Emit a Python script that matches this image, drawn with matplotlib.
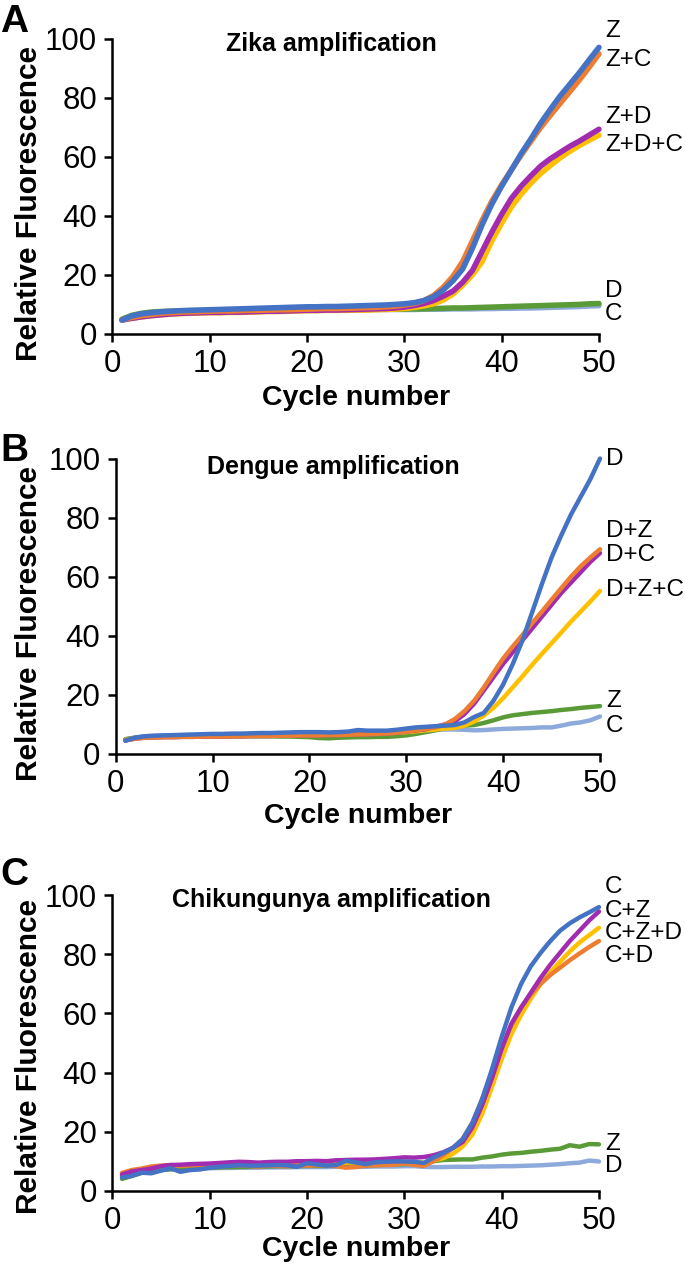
import matplotlib
matplotlib.use("Agg")
import matplotlib.pyplot as plt
import numpy as np

plt.rcParams['font.family'] = ['Liberation Sans', 'DejaVu Sans']

cycles = np.arange(1, 51)

# ---- Panel A: Zika amplification ----
a_z = [4.7, 6.1, 6.8, 7.2, 7.5, 7.7, 7.9, 8.0, 8.1, 8.2,
       8.3, 8.4, 8.5, 8.6, 8.7, 8.8, 8.9, 9.0, 9.1, 9.2,
       9.2, 9.3, 9.3, 9.4, 9.5, 9.6, 9.7, 9.8, 10.0, 10.2,
       10.6, 11.3, 12.6, 14.9, 18.0, 22.0, 29.0, 37.0, 44.0, 50.0,
       55.5, 61.0, 66.0, 71.3, 76.0, 80.5, 84.5, 88.5, 92.8, 97.0]
a_zc = [4.8, 5.6, 6.2, 6.6, 7.0, 7.2, 7.4, 7.5, 7.6, 7.7,
        7.8, 7.8, 7.9, 8.0, 8.0, 8.1, 8.2, 8.2, 8.3, 8.4,
        8.5, 8.6, 8.6, 8.7, 8.8, 8.9, 9.0, 9.2, 9.4, 9.8,
        10.3, 11.3, 13.0, 15.8, 19.5, 24.5, 31.5, 38.5, 45.0, 50.5,
        55.5, 60.5, 65.2, 69.8, 74.0, 78.0, 82.0, 86.0, 90.3, 94.8]
a_zd = [4.7, 5.3, 5.8, 6.2, 6.5, 6.8, 7.0, 7.1, 7.2, 7.3,
        7.3, 7.4, 7.4, 7.5, 7.6, 7.7, 7.7, 7.8, 7.9, 8.0,
        8.0, 8.1, 8.1, 8.2, 8.3, 8.4, 8.5, 8.6, 8.8, 9.1,
        9.6, 10.3, 11.3, 12.8, 14.5, 17.5, 21.5, 28.0, 34.5, 40.5,
        45.9, 50.0, 53.5, 56.8, 59.3, 61.4, 63.5, 65.3, 67.3, 69.3]
a_zdc = [4.8, 5.3, 5.8, 6.2, 6.5, 6.7, 6.9, 7.0, 7.1, 7.2,
         7.2, 7.3, 7.3, 7.4, 7.5, 7.6, 7.6, 7.7, 7.8, 7.9,
         7.9, 8.0, 8.0, 8.0, 8.1, 8.1, 8.2, 8.3, 8.4, 8.6,
         9.0, 9.5, 10.2, 11.5, 13.5, 16.5, 20.0, 24.5, 31.5, 37.5,
         43.0, 47.3, 51.0, 54.3, 57.0, 59.6, 61.8, 63.8, 65.6, 67.3]
a_d = [5.0, 6.3, 7.0, 7.4, 7.6, 7.7, 7.8, 7.9, 7.9, 8.0,
       8.0, 8.0, 8.1, 8.1, 8.1, 8.1, 8.2, 8.2, 8.2, 8.2,
       8.2, 8.3, 8.3, 8.3, 8.3, 8.3, 8.4, 8.4, 8.4, 8.4,
       8.5, 8.5, 8.6, 8.7, 8.8, 8.8, 8.9, 9.0, 9.1, 9.2,
       9.3, 9.4, 9.5, 9.6, 9.7, 9.8, 9.9, 10.0, 10.2, 10.3]
a_c = [4.8, 5.9, 6.6, 7.0, 7.3, 7.5, 7.6, 7.7, 7.7, 7.8,
       7.8, 7.9, 7.9, 7.9, 8.0, 8.0, 8.0, 8.0, 8.1, 8.1,
       8.1, 8.1, 8.2, 8.2, 8.2, 8.2, 8.3, 8.3, 8.3, 8.3,
       8.3, 8.4, 8.4, 8.4, 8.5, 8.5, 8.5, 8.6, 8.6, 8.7,
       8.7, 8.8, 8.8, 8.9, 9.0, 9.1, 9.2, 9.3, 9.5, 9.6]

# ---- Panel B: Dengue amplification ----
b_d = [4.5, 5.5, 6.0, 6.2, 6.3, 6.4, 6.5, 6.6, 6.7, 6.8,
       6.8, 6.9, 6.9, 7.0, 7.1, 7.1, 7.2, 7.3, 7.4, 7.4,
       7.4, 7.3, 7.4, 7.6, 8.1, 7.9, 7.9, 7.9, 8.2, 8.6,
       9.0, 9.2, 9.4, 9.6, 9.8, 10.7, 12.5, 13.9, 18.0, 23.5,
       30.5, 38.5, 48.0, 57.5, 66.5, 74.0, 81.0, 87.0, 93.0, 100.0]
b_dz = [4.6, 5.2, 5.5, 5.6, 5.7, 5.7, 5.8, 5.8, 5.9, 5.9,
        5.9, 6.0, 6.0, 6.1, 6.1, 6.1, 6.2, 6.2, 6.3, 6.3,
        6.3, 6.4, 6.4, 6.5, 6.6, 6.7, 6.8, 7.0, 7.2, 7.6,
        8.0, 8.5, 9.0, 10.0, 11.8, 14.5, 18.0, 22.5, 27.5, 32.3,
        36.4, 40.3, 44.3, 48.2, 52.2, 56.1, 60.0, 63.5, 66.5, 69.3]
b_dc = [4.6, 5.2, 5.5, 5.6, 5.7, 5.7, 5.8, 5.8, 5.9, 5.9,
        5.9, 6.0, 6.0, 6.1, 6.1, 6.1, 6.2, 6.2, 6.3, 6.3,
        6.3, 6.4, 6.4, 6.5, 6.6, 6.7, 6.8, 7.0, 7.2, 7.6,
        8.0, 8.4, 9.2, 10.0, 11.0, 13.5, 17.0, 21.5, 26.0, 30.5,
        34.5, 38.5, 42.5, 46.5, 50.5, 54.5, 58.0, 61.5, 65.0, 68.0]
b_dzc = [4.8, 5.3, 5.6, 5.7, 5.8, 5.8, 5.9, 5.9, 6.0, 6.0,
         6.0, 6.1, 6.1, 6.2, 6.2, 6.2, 6.3, 6.3, 6.4, 6.4,
         6.4, 6.5, 6.5, 6.6, 6.7, 6.8, 6.9, 7.0, 7.2, 7.4,
         7.7, 8.0, 8.3, 8.6, 8.8, 9.6, 11.0, 13.0, 15.6, 18.9,
         22.6, 26.3, 30.2, 33.9, 37.5, 41.1, 44.8, 48.2, 51.6, 55.2]
b_z = [5.0, 5.5, 5.8, 5.9, 5.9, 6.0, 6.0, 6.0, 6.0, 6.0,
       6.0, 6.0, 6.0, 6.0, 6.0, 6.0, 5.9, 5.9, 5.8, 5.7,
       5.4, 5.3, 5.5, 5.6, 5.7, 5.7, 5.8, 5.8, 6.0, 6.3,
       6.8, 7.4, 8.0, 8.7, 9.3, 9.6, 9.8, 10.5, 11.4, 12.4,
       13.1, 13.5, 13.9, 14.2, 14.5, 14.9, 15.2, 15.6, 15.9, 16.2]
b_c = [5.0, 5.6, 6.0, 6.1, 6.2, 6.3, 6.4, 6.4, 6.5, 6.5,
       6.6, 6.6, 6.7, 6.7, 6.8, 6.8, 6.9, 6.9, 7.0, 7.0,
       7.1, 7.1, 7.2, 7.2, 7.3, 7.4, 7.5, 7.6, 7.7, 7.8,
       8.0, 8.1, 8.2, 8.3, 8.3, 8.2, 8.0, 8.1, 8.3, 8.5,
       8.6, 8.7, 8.8, 9.0, 9.0, 9.6, 10.3, 10.7, 11.4, 12.7]

# ---- Panel C: Chikungunya amplification ----
c_c = [4.5, 5.0, 6.1, 5.9, 6.8, 7.6, 6.4, 7.0, 7.2, 7.8,
       8.1, 8.4, 8.6, 8.5, 8.5, 8.6, 8.7, 8.6, 8.1, 9.3,
       8.9, 8.5, 8.7, 10.1, 9.6, 9.0, 9.6, 9.8, 9.9, 9.9,
       9.8, 9.4, 11.2, 12.8, 14.5, 17.5, 23.0, 31.0, 41.0, 52.0,
       62.0, 70.0, 76.0, 80.5, 84.5, 88.0, 90.5, 92.5, 94.2, 96.0]
c_cz = [5.5, 6.5, 7.0, 7.5, 8.3, 8.7, 8.8, 9.0, 9.1, 9.2,
        9.4, 9.6, 9.8, 9.7, 9.5, 9.7, 9.8, 9.8, 10.0, 10.0,
        10.1, 10.0, 10.3, 10.4, 10.5, 10.5, 10.6, 10.8, 11.0, 11.3,
        11.2, 11.4, 12.0, 13.0, 14.5, 16.5, 21.5, 29.0, 38.0, 48.0,
        56.5, 62.0, 67.0, 72.0, 76.5, 80.5, 84.5, 88.0, 91.5, 94.5]
c_cd = [6.0, 7.0, 7.5, 8.2, 8.5, 8.7, 8.5, 8.6, 8.7, 8.9,
        8.7, 8.5, 8.6, 8.4, 8.2, 8.5, 8.4, 8.3, 8.5, 8.5,
        8.6, 8.6, 8.3, 7.8, 8.0, 8.5, 8.6, 8.7, 8.8, 9.2,
        8.8, 8.4, 10.0, 12.0, 14.5, 17.5, 23.0, 31.0, 40.0, 48.5,
        56.0, 62.0, 66.5, 70.0, 73.0, 75.5, 78.0, 80.3, 82.5, 84.5]
c_czd = [5.5, 6.5, 7.2, 7.8, 8.2, 8.5, 8.6, 8.7, 8.8, 8.9,
         9.0, 9.0, 9.1, 9.1, 9.1, 9.2, 9.2, 9.3, 9.3, 9.4,
         9.4, 9.4, 9.5, 9.5, 9.6, 9.6, 9.7, 9.7, 9.8, 9.8,
         9.6, 9.5, 10.2, 11.0, 12.5, 15.0, 19.0, 26.0, 35.0, 44.5,
         53.0, 59.5, 65.0, 70.0, 74.0, 77.5, 81.0, 84.0, 86.5, 89.0]
c_z = [4.0, 5.0, 6.0, 6.5, 7.0, 7.3, 7.5, 7.6, 7.7, 7.8,
       7.9, 8.0, 8.0, 8.1, 8.2, 8.2, 8.3, 8.3, 8.3, 8.4,
       8.4, 8.4, 8.5, 8.5, 8.6, 8.6, 8.7, 8.8, 8.9, 9.0,
       9.1, 9.3, 10.0, 10.4, 10.5, 10.6, 10.6, 11.2, 11.6, 12.2,
       12.6, 12.8, 13.2, 13.5, 13.9, 14.2, 15.4, 14.9, 15.8, 15.7]
c_d = [5.0, 5.8, 6.3, 6.7, 7.0, 7.2, 7.3, 7.4, 7.5, 7.6,
       7.7, 7.7, 7.8, 7.8, 7.8, 7.9, 7.9, 7.9, 8.0, 8.0,
       8.0, 8.0, 8.1, 8.1, 8.1, 8.1, 8.2, 8.2, 8.2, 8.3,
       8.3, 8.1, 8.0, 8.0, 8.1, 8.1, 8.1, 8.2, 8.2, 8.3,
       8.3, 8.4, 8.5, 8.6, 8.8, 9.0, 9.3, 9.5, 10.2, 9.9]

BLUE = "#4472C4"
ORANGE = "#ED7D31"
PURPLE = "#A12CB0"
YELLOW = "#FFC000"
GREEN = "#5B9B37"
LBLUE = "#8EA9DB"

TICK_FONT = ['Liberation Sans Narrow', 'Liberation Sans', 'DejaVu Sans']

panels = [
    {
        "letter": "A", "title": "Zika amplification",
        "rect": [0.1639, 0.7364, 0.7105, 0.2332], "lw": 4.0,
        # drawn bottom to top: (values, colour)
        "series": [(a_c, LBLUE), (a_d, GREEN), (a_zdc, YELLOW), (a_zd, PURPLE), (a_zc, ORANGE), (a_z, BLUE)],
        "labels": [("Z", 102.5), ("Z+C", 92.7), ("Z+D", 73.5), ("Z+D+C", 64.0), ("D", 14.6), ("C", 6.8)],
        "letter_y": 0.9747, "title_y": 0.958, "xlab_y": -0.239, "ylab_x": -0.172, "ylab_y": 0.443,
    },
    {
        "letter": "B", "title": "Dengue amplification",
        "rect": [0.1689, 0.4049, 0.7070, 0.2332], "lw": 3.2,
        "series": [(b_c, LBLUE), (b_z, GREEN), (b_dzc, YELLOW), (b_dc, PURPLE), (b_dz, ORANGE), (b_d, BLUE)],
        "labels": [("D", 100.0), ("D+Z", 75.6), ("D+C", 67.4), ("D+Z+C", 55.4), ("Z", 17.9), ("C", 9.4)],
        "letter_y": 0.6361, "title_y": 0.948, "xlab_y": -0.232, "ylab_x": -0.178, "ylab_y": 0.44,
    },
    {
        "letter": "C", "title": "Chikungunya amplification",
        "rect": [0.1639, 0.0602, 0.7105, 0.2332], "lw": 3.2,
        "series": [(c_d, LBLUE), (c_z, GREEN), (c_czd, YELLOW), (c_cd, ORANGE), (c_cz, PURPLE), (c_c, BLUE)],
        "labels": [("C", 102.8), ("C+Z", 94.6), ("C+Z+D", 87.2), ("C+D", 79.4), ("Z", 15.9), ("D", 8.2)],
        "letter_y": 0.3015, "title_y": 0.961, "xlab_y": -0.222, "ylab_x": -0.172, "ylab_y": 0.455,
    },
]

fig = plt.figure(figsize=(6.85, 12.67), dpi=100)

for p in panels:
    ax = fig.add_axes(p["rect"])
    for vals, col in p["series"]:
        ax.plot(cycles, vals, color=col, linewidth=p["lw"], solid_capstyle="round", clip_on=False)

    ax.set_xlim(0, 50)
    ax.set_ylim(0, 100)
    ax.set_xticks(range(0, 51, 10))
    ax.set_yticks(range(0, 101, 20))
    for side in ["top", "right"]:
        ax.spines[side].set_visible(False)
    for side in ["left", "bottom"]:
        ax.spines[side].set_linewidth(1.8)
    ax.tick_params(axis="both", direction="out", length=6, width=1.8, labelsize=22.5)
    ax.tick_params(axis="y", pad=5)
    ax.tick_params(axis="x", pad=5)
    for lab in ax.get_xticklabels() + ax.get_yticklabels():
        lab.set_family(TICK_FONT)

    for text, yv in p["labels"]:
        ax.text(50.6, yv, text, fontsize=17.5, ha="left", va="center", clip_on=False)

    ax.text(0.45, p["title_y"], p["title"], transform=ax.transAxes, fontsize=18,
            fontweight="bold", ha="center", va="baseline")
    ax.text(0.5, p["xlab_y"], "Cycle number", transform=ax.transAxes, fontsize=20.5,
            fontweight="bold", ha="center", va="baseline")
    ax.text(p["ylab_x"], p["ylab_y"], "Relative Fluorescence", transform=ax.transAxes,
            fontsize=21.5, fontweight="bold", rotation=90, ha="center", va="center")
    fig.text(0.0, p["letter_y"], p["letter"], fontsize=28, fontweight="bold",
             ha="left", va="baseline")

fig.savefig("out.png", dpi=100)
